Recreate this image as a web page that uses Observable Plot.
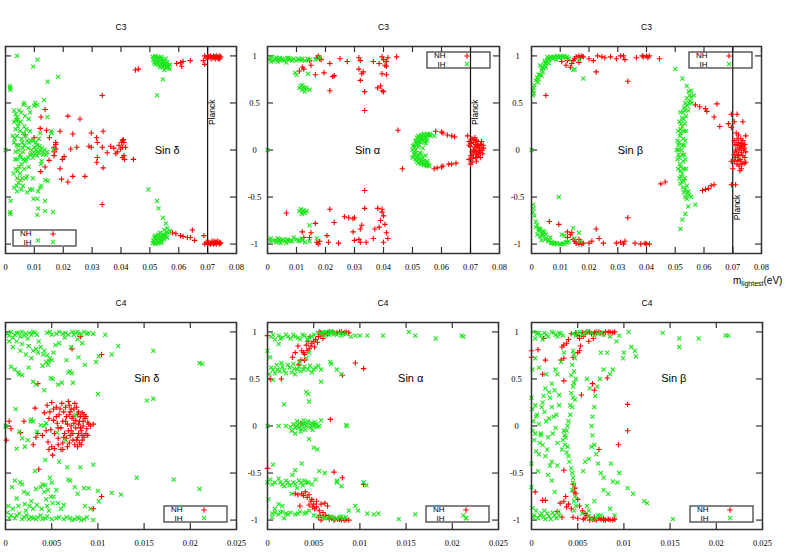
<!DOCTYPE html>
<html><head><meta charset="utf-8">
<script src="https://cdn.jsdelivr.net/npm/d3@7"></script>
<script src="https://cdn.jsdelivr.net/npm/@observablehq/plot@0.6"></script>
<style>
body{margin:0;background:#fff}
#chart{position:relative;width:789px;height:552px;overflow:hidden;background:#fff}
#chart svg{position:absolute;left:0;top:0}
#xlabel{position:absolute;left:733px;top:275px;font:10px "Liberation Sans",Arial,sans-serif;white-space:nowrap;color:#000}
#xlabel sub{font-size:7px;vertical-align:-2px}
</style>
</head><body><div id="chart"><div id="xlabel">m<sub>lightest</sub>(eV)</div></div>
<script>
// ---------- tick values / labels ----------
const xTicksC3 = [0,0.01,0.02,0.03,0.04,0.05,0.06,0.07,0.08];
const xTickLabelsC3 = ["0","0.01","0.02","0.03","0.04","0.05","0.06","0.07","0.08"];
const xTicksC4 = [0,0.005,0.01,0.015,0.02,0.025];
const xTickLabelsC4 = ["0","0.005","0.01","0.015","0.02","0.025"];
const yTicks = [-1,-0.5,0,0.5,1];
const yTickLabels = ["-1","-0.5","0","0.5","1"];
const panelTitles = ["C3","C3","C3","C4","C4","C4"];
const panelLabels = ["Sin δ","Sin α","Sin β","Sin δ","Sin α","Sin β"];
const seriesNames = ["NH","IH"];
const planckLimit = 0.07;

// ---------- C3 : sin delta ----------
const c3DeltaNH = [[0.069,1.0],[0.0695,0.98],[0.07,1.0],[0.0705,0.99],[0.071,1.0],[0.0715,0.98],[0.072,1.0],[0.0725,0.99],[0.073,1.0],[0.0735,0.98],[0.074,1.0],[0.0745,0.99],[0.0728,0.97],[0.0738,0.97],[0.069,0.91],[0.0685,0.95],
[0.0593,0.92],[0.0606,0.93],[0.061,0.89],[0.0615,0.94],[0.064,0.95],[0.045,0.85],[0.046,0.86],[0.0335,0.58],[0.0335,-0.58],
[0.069,-1.0],[0.0695,-0.98],[0.07,-1.0],[0.0705,-0.99],[0.071,-1.0],[0.0715,-0.97],[0.072,-1.0],[0.0725,-0.99],[0.073,-1.0],[0.0735,-0.97],[0.074,-1.0],[0.0745,-0.99],[0.0728,-0.98],
[0.0578,-0.88],[0.059,-0.89],[0.0606,-0.91],[0.0615,-0.92],[0.063,-0.93],[0.064,-0.93],[0.0647,-0.85],[0.0655,-0.96],[0.0687,-0.91],
[0.0137,0.43],[0.0123,0.35],[0.012,0.23],[0.0142,0.21],[0.0189,0.2],[0.0216,0.36],[0.0258,0.33],[0.0233,0.17],[0.0297,0.18],[0.0315,0.13],[0.0338,0.2],[0.0318,0.08],[0.0289,0.04],[0.0247,0.03],[0.0226,0.01],[0.0203,-0.07],[0.0197,-0.1],[0.0174,0.06],[0.0168,0.03],[0.017,-0.02],[0.0168,-0.06],[0.0152,0.13],[0.0099,0.13],[0.0122,-0.23],[0.0151,-0.11],[0.0137,-0.18],[0.0189,-0.2],[0.0194,-0.31],[0.0216,-0.34],[0.0233,-0.28],[0.0275,-0.28],[0.0338,-0.19],[0.0318,-0.08],[0.0316,-0.13],[0.0364,0.04],[0.0375,0.02],[0.0387,-0.02],[0.0393,0.05],[0.0405,0.1],[0.041,0.08],[0.0405,0.03],[0.041,-0.06],[0.0405,-0.08],[0.0398,0.01],[0.0382,-0.04],[0.0443,-0.1],[0.0416,0.03],[0.0402,0.08],[0.0408,0.11],[0.0335,0.03],[0.0297,0.03],[0.0174,0.08],[0.0175,0.01],[0.0412,-0.1],[0.0352,-0.03],[0.0068,0.16],
[0.0702,0.99],[0.0712,0.97],[0.0722,0.98],[0.0732,0.99],[0.0742,0.97],[0.0702,-0.98],[0.0712,-0.99],[0.0722,-0.97],[0.0732,-0.98],[0.0742,-0.98]];
const c3DeltaIH = [[0,0],[0.004,1.0],[0.0096,0.886],[0.0111,0.96],[0.0146,0.727],[0.0182,0.777],[0.0016,0.66],[0.0017,0.64],[0.0015,0.68],
[0.003,0.42],[0.0035,0.38],[0.004,0.35],[0.003,0.3],[0.0045,0.28],[0.0035,0.22],[0.005,0.2],[0.004,0.15],[0.0055,0.12],[0.003,0.08],[0.0045,0.05],[0.006,0.02],[0.0035,-0.02],[0.005,-0.05],[0.004,-0.1],[0.0055,-0.15],[0.0035,-0.2],[0.005,-0.25],[0.004,-0.3],[0.0045,-0.35],[0.003,-0.4],[0.004,-0.44],[0.0065,0.25],[0.007,0.15],[0.0065,0.05],[0.007,-0.1],[0.0065,-0.2],[0.007,-0.3],[0.006,-0.38],[0.008,0.33],[0.0085,0.2],[0.0075,0.1],[0.009,0.0],[0.0085,-0.05],[0.008,-0.18],[0.0075,-0.28],[0.0085,-0.42],[0.0095,0.1],[0.01,0.03],[0.0105,0.0],[0.011,0.05],[0.0115,-0.03],[0.012,0.0],[0.0125,0.02],[0.011,-0.06],[0.0105,0.08],[0.0095,-0.08],[0.0115,0.12],[0.012,0.18],[0.0125,-0.12],[0.013,-0.05],[0.0135,0.0],[0.014,-0.05],[0.0145,-0.02],[0.0158,0.2],[0.016,0.18],[0.0165,0.0],[0.0062,0.48],[0.0065,0.5],[0.008,0.45],[0.01,0.47],[0.0103,0.5],[0.011,0.48],[0.0133,0.53],[0.0145,0.35],[0.0097,-0.52],[0.0095,-0.3],[0.0113,-0.44],[0.012,-0.4],[0.0093,-0.42],[0.0075,-0.45],[0.0055,-0.42],[0.0025,0.15],[0.0028,-0.25],[0.0138,-0.32],[0.0123,-0.15],[0.0085,0.4],[0.0055,0.4],[0.006,-0.02],[0.0045,0.0],[0.0042,0.32],[0.0048,-0.18],[0.0058,0.08],[0.0038,0.05],[0.0052,-0.32],[0.0062,-0.1],[0.0033,-0.1],[0.0068,0.36],[0.0078,-0.08],[0.0088,0.1],[0.0108,-0.02],
[0.0032,0.12],[0.0042,-0.22],[0.0052,0.3],[0.0058,-0.3],[0.0036,0.32],[0.0047,0.42],[0.0038,-0.38],[0.0062,0.18],[0.0072,0.22],[0.0068,-0.12],[0.0078,0.02],[0.0082,0.08],[0.0092,-0.04],[0.0102,-0.04],[0.0118,0.04],[0.0128,-0.02],[0.0043,0.25],[0.0053,-0.08],
[0.0018,-0.54],[0.0016,-0.66],[0.0017,-0.68],[0.011,-0.52],[0.0113,-0.62],[0.011,-0.69],[0.0137,-0.54],[0.0137,-0.65],[0.0165,-0.66],[0.0124,-0.38],[0.0146,-0.33],[0.0113,-0.96],
[0.051,0.99],[0.0515,0.97],[0.052,1.0],[0.0525,0.96],[0.053,0.98],[0.0535,0.94],[0.054,0.97],[0.0545,0.92],[0.055,0.95],[0.0555,0.9],[0.056,0.93],[0.0565,0.88],[0.057,0.91],[0.0525,0.92],[0.0535,0.88],[0.055,0.85],[0.0545,0.88],[0.0515,0.93],[0.054,0.99],[0.0555,0.97],[0.0545,0.75],[0.0525,0.58],
[0.0512,0.96],[0.0518,0.99],[0.0522,0.94],[0.0528,0.99],[0.0532,0.95],[0.0538,0.91],[0.0542,0.95],[0.0548,0.9],[0.0552,0.92],[0.0558,0.87],[0.0562,0.9],[0.0568,0.86],[0.053,0.9],[0.0518,0.91],
[0.051,-0.99],[0.0515,-0.97],[0.052,-1.0],[0.0525,-0.96],[0.053,-0.98],[0.0535,-0.94],[0.054,-0.97],[0.0545,-0.92],[0.055,-0.95],[0.0555,-0.9],[0.056,-0.93],[0.0565,-0.88],[0.057,-0.86],[0.0525,-0.92],[0.0535,-0.88],[0.055,-0.85],[0.0545,-0.9],[0.0515,-0.93],[0.054,-0.99],[0.0495,-0.42],[0.0525,-0.54],[0.053,-0.62],[0.0545,-0.72],[0.0555,-0.78],[0.056,-0.83],
[0.0512,-0.96],[0.0518,-0.99],[0.0522,-0.94],[0.0528,-0.99],[0.0532,-0.95],[0.0538,-0.91],[0.0542,-0.95],[0.0548,-0.9],[0.0552,-0.92],[0.0558,-0.87],[0.053,-0.9],[0.0518,-0.91]];

// ---------- C3 : sin alpha ----------
const c3AlphaNH = [[0.017,0.98],[0.0175,1.0],[0.018,0.97],[0.0185,0.96],[0.0145,0.95],[0.015,0.9],[0.012,0.88],[0.0125,0.86],[0.011,0.84],[0.0165,0.8],[0.0215,0.92],[0.0195,0.82],[0.0225,0.78],[0.023,0.79],[0.025,0.97],[0.0275,0.94],[0.0315,0.98],[0.032,0.95],[0.033,0.83],[0.0325,0.81],[0.032,0.74],[0.0315,0.86],[0.0215,0.63],[0.0335,0.62],[0.0335,0.42],[0.0365,0.94],[0.0385,0.92],[0.0395,0.99],[0.0415,0.98],[0.0445,0.99],[0.0405,0.9],[0.041,0.89],[0.0395,0.81],[0.041,0.8],[0.038,0.66],[0.039,0.68],[0.0395,0.63],[0.04,0.62],[0.04,0.96],[0.041,0.94],
[0.017,-0.98],[0.0175,-1.0],[0.018,-0.97],[0.0145,-0.93],[0.015,-0.88],[0.012,-0.87],[0.0125,-0.93],[0.0165,-0.78],[0.0065,-0.67],[0.0205,-0.91],[0.021,-0.98],[0.0215,-0.63],[0.023,-0.77],[0.0245,-0.99],[0.0265,-0.71],[0.028,-0.72],[0.0295,-0.73],[0.03,-0.72],[0.0295,-0.87],[0.03,-0.96],[0.0315,-0.95],[0.032,-0.98],[0.0325,-0.8],[0.032,-0.84],[0.0335,-0.62],[0.0335,-0.43],[0.034,-0.98],[0.0365,-0.94],[0.037,-0.84],[0.0385,-0.82],[0.039,-0.75],[0.0395,-0.63],[0.0395,-0.66],[0.04,-0.7],[0.0405,-0.79],[0.041,-0.88],[0.0415,-0.94],[0.04,-0.98],[0.038,-0.62],
[0.045,0.21],[0.0465,-0.2],[0.0575,-0.2],[0.0585,-0.19],[0.06,-0.18],[0.0605,-0.17],[0.0625,-0.15],[0.0635,-0.15],[0.065,-0.14],[0.06,0.19],[0.0605,0.18],[0.062,0.16],[0.0635,0.15],[0.0645,0.14],[0.058,0.2],
[0.069,0.15],[0.0695,0.05],[0.0695,-0.1],[0.07,-0.15],[0.0705,0.12],[0.071,0.0],[0.071,0.08],[0.071,-0.05],[0.0715,0.03],[0.072,-0.02],[0.072,0.1],[0.0725,0.05],[0.0725,-0.07],[0.073,0.0],[0.073,0.02],[0.0735,-0.03],[0.0735,0.06],[0.074,0.0],[0.0745,0.02],[0.0705,-0.13],[0.0715,0.13],[0.072,-0.12],[0.07,0.04],[0.0695,0.09],[0.0728,-0.05],[0.0742,-0.04],[0.0705,-0.02],[0.0712,0.11],[0.0738,0.09],[0.0718,-0.08],[0.0732,0.04],
[0.0702,0.07],[0.0708,-0.09],[0.0718,0.06],[0.0722,-0.04],[0.0726,0.09],[0.0734,-0.08],[0.0744,0.05],[0.0702,-0.06],[0.0716,-0.01],[0.0731,-0.01],[0.0722,0.04]];
const c3AlphaIH = [[0,0],[0.0005,0.96],[0.001,0.97],[0.002,0.95],[0.003,0.98],[0.004,0.96],[0.005,0.97],[0.006,0.95],[0.007,0.98],[0.008,0.96],[0.009,0.97],[0.01,0.95],[0.011,0.96],[0.012,0.97],[0.013,0.95],[0.0145,0.96],[0.0165,0.96],[0.018,0.98],[0.0035,0.94],[0.0065,0.93],[0.0015,0.99],[0.0095,0.82],[0.01,0.8],[0.014,0.81],[0.0045,0.95],[0.0075,0.97],[0.0025,0.96],
[0.0012,0.94],[0.0028,0.96],[0.0042,0.98],[0.0055,0.96],[0.0068,0.97],[0.0085,0.95],[0.0105,0.97],[0.0118,0.95],[0.0138,0.97],
[0.011,0.66],[0.0115,0.68],[0.012,0.64],[0.0125,0.67],[0.013,0.65],[0.0135,0.66],[0.0145,0.64],[0.012,0.69],[0.0128,0.62],
[0.011,-0.65],[0.0115,-0.63],[0.012,-0.66],[0.0125,-0.64],[0.013,-0.67],[0.0118,-0.68],[0.0135,-0.65],[0.0145,-0.8],[0.0005,-0.95],[0.001,-0.97],[0.002,-0.96],[0.003,-0.98],[0.004,-0.95],[0.005,-0.96],[0.006,-0.97],[0.007,-0.95],[0.008,-0.96],[0.009,-0.93],[0.01,-0.95],[0.011,-0.97],[0.012,-0.96],[0.013,-0.98],[0.0145,-0.97],[0.017,-0.94],[0.0045,-0.99],[0.0065,-0.99],[0.0035,-0.94],[0.0075,-0.97],
[0.0012,-0.94],[0.0028,-0.96],[0.0042,-0.97],[0.0055,-0.95],[0.0068,-0.96],[0.0085,-0.97],[0.0105,-0.96],[0.0118,-0.94],
[0.0505,0.05],[0.051,0.1],[0.0515,0.13],[0.052,0.15],[0.053,0.16],[0.054,0.17],[0.055,0.16],[0.056,0.17],[0.0505,-0.05],[0.051,-0.1],[0.0515,-0.12],[0.052,-0.14],[0.053,-0.15],[0.054,-0.16],[0.055,-0.17],[0.0555,-0.16],[0.051,0.0],[0.052,0.03],[0.0525,-0.03],[0.053,0.08],[0.0535,-0.08],[0.052,0.09],[0.0525,-0.1],[0.054,0.12],[0.054,-0.12],[0.055,0.1],[0.055,-0.12],[0.0515,0.06],[0.0515,-0.06],[0.05,-0.08],[0.0575,0.15],[0.0535,0.14],[0.0545,-0.14],[0.0525,0.12],[0.05,0.0],[0.0545,0.15],[0.0535,0.02],[0.053,-0.04],[0.0545,0.07],[0.0545,-0.06],
[0.0508,0.03],[0.0512,-0.03],[0.0518,0.1],[0.0518,-0.1],[0.0522,0.06],[0.0522,-0.06],[0.0528,0.14],[0.0528,-0.13],[0.0532,0.11],[0.0532,-0.11],[0.0538,0.16],[0.0538,-0.15],[0.0542,0.09],[0.0548,0.13],[0.0548,-0.16],[0.0552,0.17],[0.0552,-0.14],[0.0558,0.16],[0.0558,-0.17],[0.0562,0.15],[0.0502,0.04],[0.0506,-0.02],[0.0512,0.08],[0.0513,-0.08]];

// ---------- C3 : sin beta ----------
const c3BetaNH = [[0.0155,0.99],[0.0165,1.0],[0.017,0.98],[0.0175,1.0],[0.018,0.99],[0.0145,0.95],[0.014,0.92],[0.0135,0.88],[0.015,0.97],[0.0165,0.93],[0.02,0.97],[0.0215,0.95],[0.023,1.0],[0.0245,0.99],[0.0255,0.98],[0.0275,0.99],[0.0295,0.97],[0.031,1.0],[0.032,1.0],[0.0325,0.96],[0.0365,0.98],[0.0385,1.0],[0.039,0.99],[0.04,1.0],[0.0405,0.98],[0.041,1.0],[0.0445,0.97],[0.0225,0.83],[0.0335,0.73],[0.005,0.58],[0.0105,0.94],[0.0125,0.95],[0.012,0.9],
[0.0155,-0.99],[0.0165,-1.0],[0.017,-0.98],[0.0175,-1.0],[0.018,-0.99],[0.0145,-0.95],[0.014,-0.88],[0.0135,-0.9],[0.015,-0.97],[0.0125,-0.93],[0.0165,-0.95],[0.02,-0.99],[0.021,-0.97],[0.0225,-0.84],[0.0235,-0.94],[0.025,-0.99],[0.0295,-0.99],[0.031,-0.98],[0.032,-1.0],[0.0325,-0.97],[0.0335,-0.72],[0.036,-0.99],[0.038,-1.0],[0.0395,-0.99],[0.04,-1.0],[0.041,-1.0],[0.0062,-0.76],[0.0095,-0.79],[0.0125,-0.87],
[0.057,0.48],[0.0585,0.46],[0.0605,0.44],[0.061,0.41],[0.0635,0.35],[0.0645,0.49],[0.0655,0.25],[0.0695,0.38],[0.0715,0.38],[0.0685,0.28],[0.0695,0.24],[0.0705,0.3],[0.0735,0.3],[0.045,-0.36],[0.0465,-0.34],[0.0595,-0.43],[0.0605,-0.42],[0.0615,-0.41],[0.0625,-0.38],[0.0635,-0.37],[0.0695,-0.37],[0.071,-0.37],[0.07,-0.2],[0.0695,-0.12],
[0.0705,0.1],[0.071,0.0],[0.071,-0.08],[0.0715,0.12],[0.0715,0.05],[0.072,-0.05],[0.072,0.08],[0.0725,0.0],[0.0725,-0.1],[0.073,0.04],[0.073,-0.03],[0.0735,0.1],[0.0735,-0.06],[0.074,0.02],[0.074,-0.14],[0.0745,0.15],[0.0745,-0.02],[0.0705,-0.05],[0.0715,-0.15],[0.0725,-0.22],[0.073,-0.2],[0.072,0.16],[0.0722,0.02],[0.0732,0.07],[0.0745,-0.13],[0.0738,0.0],[0.0712,-0.02],[0.0728,-0.12],[0.0742,0.06],[0.0718,-0.11],
[0.0708,0.06],[0.0718,-0.06],[0.0728,0.12],[0.0732,-0.15],[0.0742,-0.08],[0.0712,0.18],[0.0726,0.05],[0.0736,0.04],[0.0722,-0.17],[0.0706,-0.12]];
const c3BetaIH = [[0,0],[0.0005,0.58],[0.0008,0.6],[0.0005,0.63],[0.0007,0.66],[0.001,0.69],[0.0015,0.74],[0.002,0.77],[0.0025,0.75],[0.003,0.8],[0.0035,0.85],[0.004,0.88],[0.0045,0.9],[0.005,0.93],[0.0055,0.95],[0.006,0.97],[0.007,0.98],[0.008,0.99],[0.009,1.0],[0.01,1.0],[0.011,0.99],[0.012,0.98],[0.013,0.97],[0.004,0.83],[0.005,0.88],[0.006,0.92],[0.003,0.9],[0.0045,0.95],[0.0022,0.72],[0.0035,0.79],[0.0055,0.99],[0.0075,0.97],[0.0085,0.96],[0.0145,0.85],[0.015,0.86],[0.018,0.76],[0.0165,0.96],[0.0065,0.99],[0.0095,0.98],
[0.0025,0.8],[0.0038,0.87],[0.0048,0.92],[0.0058,0.96],[0.0068,0.98],[0.0078,0.99],[0.0088,0.99],[0.0105,0.99],[0.0115,1.0],[0.0125,0.99],
[0.0005,-0.58],[0.0007,-0.62],[0.0005,-0.66],[0.001,-0.7],[0.0015,-0.76],[0.002,-0.8],[0.003,-0.84],[0.004,-0.9],[0.005,-0.94],[0.006,-0.96],[0.007,-0.98],[0.008,-0.99],[0.009,-1.0],[0.01,-1.0],[0.011,-0.99],[0.012,-0.98],[0.013,-0.97],[0.004,-0.86],[0.005,-0.9],[0.003,-0.92],[0.002,-0.9],[0.0025,-0.84],[0.0015,-0.82],[0.0035,-0.96],[0.0065,-0.93],[0.0115,-0.91],[0.0145,-0.83],[0.0165,-0.88],[0.017,-0.97],[0.0095,-0.5],[0.0105,-0.9],[0.015,-0.94],[0.0075,-0.99],
[0.0025,-0.86],[0.0038,-0.91],[0.0048,-0.95],[0.0058,-0.97],[0.0068,-0.99],[0.0078,-1.0],[0.0088,-0.99],[0.0105,-1.0],[0.0115,-1.0],[0.0125,-0.98],[0.0045,-0.87],[0.0035,-0.88],
[0.0512,0.0],[0.0513,0.08],[0.0514,-0.08],[0.0516,0.15],[0.0516,-0.15],[0.0518,0.22],[0.0518,-0.22],[0.052,0.28],[0.052,-0.28],[0.0523,0.34],[0.0523,-0.34],[0.0527,0.4],[0.0527,-0.4],[0.053,0.45],[0.053,-0.45],[0.0535,0.5],[0.0535,-0.5],[0.054,0.55],[0.054,-0.52],[0.0525,0.05],[0.0525,-0.05],[0.0528,0.12],[0.0528,-0.12],[0.053,0.2],[0.053,-0.2],[0.0533,0.28],[0.0533,-0.3],[0.0537,0.36],[0.054,-0.38],[0.0545,0.42],[0.0545,-0.44],[0.0548,0.5],[0.0548,-0.48],[0.0555,0.56],[0.0555,-0.5],[0.0552,0.52],[0.0505,0.0],[0.0508,0.1],[0.0508,-0.1],[0.051,0.2],[0.051,-0.2],[0.0515,0.3],[0.0515,-0.3],[0.0518,0.4],[0.0518,-0.36],[0.0535,0.1],[0.0535,-0.1],[0.05,0.86],[0.0525,0.76],[0.054,0.68],[0.0555,0.63],[0.0545,-0.6],[0.0535,-0.68],[0.0525,-0.74],[0.0518,-0.84],[0.057,-0.58],[0.0565,0.58],
[0.0511,0.05],[0.0511,-0.05],[0.0519,0.18],[0.0519,-0.18],[0.0524,0.25],[0.0524,-0.25],[0.0529,0.33],[0.0529,-0.33],[0.0534,0.42],[0.0534,-0.42],[0.0542,0.47],[0.0542,-0.46],[0.0522,0.0],[0.0531,0.05],[0.0531,-0.05],[0.0538,0.2],[0.0538,-0.2],[0.055,0.58],[0.0547,0.62],[0.0558,0.5]];

// ---------- C4 : sin delta ----------
const c4DeltaNH = [[0.0004,0.05],[0.0001,-0.15],[0.0006,-0.03],[0.002,0.05],[0.0016,-0.07],[0.0032,0.19],[0.0035,0.45],[0.0036,-0.46],[0.003,-0.2],[0.0042,0.14],[0.0045,0.22],[0.005,0.25],[0.0052,0.18],[0.0055,0.2],[0.0047,0.08],[0.0044,-0.05],[0.004,-0.1],[0.0046,-0.17],[0.005,-0.22],[0.0053,-0.24],[0.0057,-0.2],[0.0051,-0.31],[0.006,-0.25],[0.0062,-0.18],[0.0058,0.12],[0.0062,0.05],[0.0065,0.2],[0.0068,0.26],[0.0066,0.1],[0.007,0.15],[0.0072,0.08],[0.0074,0.03],[0.0076,-0.02],[0.0078,0.12],[0.008,0.05],[0.0082,-0.05],[0.0084,0.0],[0.0086,0.08],[0.0088,-0.03],[0.009,0.02],[0.0092,0.0],[0.0068,-0.05],[0.007,-0.1],[0.0073,-0.15],[0.0075,-0.2],[0.0078,-0.12],[0.008,-0.18],[0.0083,-0.1],[0.0064,-0.08],[0.0066,-0.13],[0.0071,0.0],[0.0074,0.18],[0.0077,0.2],[0.0079,0.15],[0.0081,0.1],[0.0085,-0.12],[0.0087,0.1],[0.006,-0.02],[0.0056,0.03],[0.0053,-0.08],[0.0049,-0.04],[0.0078,-0.22],[0.0082,-0.2],[0.0069,0.22],[0.0062,-0.25],[0.0087,-0.08],[0.0095,0.02],[0.0035,-0.08],[0.0033,-0.12],[0.0081,0.95],[0.0072,0.82],[0.0104,0.76],[0.0104,-0.75],[0.0095,-0.88],[0.0048,0.15],[0.0055,0.1],[0.0063,0.15],[0.0071,-0.05],[0.0076,0.06],[0.0079,-0.08],[0.0084,0.05],[0.0089,0.04],[0.0073,0.1],[0.0067,0.02],[0.0057,-0.13],[0.0047,-0.25],[0.0061,0.24],[0.0083,0.14],[0.0069,-0.18],
[0.0065,0.05],[0.0069,0.12],[0.0073,-0.08],[0.0077,-0.15],[0.0081,-0.02],[0.0085,0.12],[0.0089,-0.1],[0.0067,-0.22],[0.0059,0.18],[0.0063,-0.12],[0.0075,0.24],[0.0079,0.02],[0.0071,0.18],[0.0083,-0.15],[0.0057,-0.02],[0.0052,0.06]];
const c4DeltaIH = [[0.0002,0.98],[0.0006,1.0],[0.001,0.97],[0.0014,0.99],[0.0018,1.0],[0.0022,0.98],[0.0026,0.99],[0.003,1.0],[0.0034,0.97],[0.0008,0.94],[0.0016,0.95],[0.0024,0.93],[0.0045,0.99],[0.005,0.97],[0.0058,1.0],[0.0062,0.98],[0.0068,0.97],[0.0072,1.0],[0.0076,0.99],[0.008,0.98],[0.0085,1.0],[0.009,0.99],[0.0095,0.98],[0.0108,0.97],
[0.0004,0.96],[0.0012,0.99],[0.002,0.96],[0.0028,0.97],[0.0032,0.99],[0.0048,1.0],[0.0055,0.98],[0.0065,0.99],[0.0074,0.97],[0.0078,1.0],[0.0082,0.97],[0.0088,0.98],
[0.0012,0.9],[0.0018,0.87],[0.0025,0.85],[0.003,0.8],[0.0035,0.78],[0.0038,0.84],[0.0042,0.8],[0.0045,0.75],[0.0048,0.72],[0.005,0.7],[0.0052,0.78],[0.0044,0.68],[0.004,0.64],[0.0046,0.65],[0.0054,0.86],[0.0036,0.9],[0.0028,0.72],[0.0022,0.76],[0.0016,0.8],[0.0008,0.84],[0.0004,0.9],[0.0006,0.63],[0.001,0.6],[0.0014,0.57],[0.0018,0.54],[0.0015,0.55],[0.0025,0.62],
[0.0033,0.82],[0.0041,0.76],[0.0047,0.69],
[0.0058,0.88],[0.0064,0.94],[0.0078,0.92],[0.0083,0.88],[0.0071,0.84],[0.0079,0.73],[0.0086,0.65],[0.0098,0.68],[0.0101,0.74],[0.0066,0.7],[0.0068,0.57],[0.007,0.58],[0.0072,0.56],[0.0061,0.46],[0.0073,0.46],[0.0051,0.5],[0.0049,0.51],[0.0042,0.38],[0.0033,0.44],[0.003,0.47],[0.0057,0.44],[0.01,0.34],[0.0115,0.76],[0.0122,0.85],[0.016,0.8],[0.021,0.67],[0.0213,0.66],[0.0153,0.27],[0.016,0.29],
[0,0],[0.0001,-0.01],[0.0011,0.18],[0.0012,-0.24],[0.0018,-0.13],[0.0021,-0.22],[0.0024,-0.15],[0.0028,0.07],[0.003,0.05],[0.0034,-0.06],[0.0038,0.01],[0.0042,0.0],[0.0044,0.03],[0.0056,-0.07],[0.0076,0.12],[0.0065,-0.15],[0.0015,-0.06],[0.0027,0.05],[0.0043,-0.36],[0.0058,-0.38],[0.0032,-0.48],[0.0067,-0.44],[0.0081,-0.44],[0.0095,-0.41],
[0.0002,-0.92],[0.0006,-0.95],[0.001,-0.98],[0.0015,-0.93],[0.002,-0.97],[0.0025,-0.99],[0.003,-0.98],[0.0035,-0.97],[0.004,-0.99],[0.0045,-0.96],[0.005,-0.99],[0.0058,-0.97],[0.0063,-0.99],[0.007,-0.98],[0.0075,-0.99],[0.008,-0.98],[0.0085,-0.99],[0.0095,-1.0],[0.0003,-0.85],[0.0008,-0.88],[0.0012,-0.77],[0.0016,-0.6],[0.0018,-0.62],[0.002,-0.7],[0.0024,-0.72],[0.0028,-0.8],[0.003,-0.88],[0.0034,-0.84],[0.0038,-0.65],[0.004,-0.62],[0.0042,-0.7],[0.0044,-0.78],[0.0045,-0.85],[0.0047,-0.9],[0.0048,-0.55],[0.005,-0.6],[0.0052,-0.75],[0.0055,-0.68],[0.0057,-0.82],[0.006,-0.88],[0.0063,-0.84],[0.0068,-0.57],[0.007,-0.58],[0.0075,-0.65],[0.0078,-0.72],[0.0085,-0.66],[0.009,-0.66],[0.0086,-0.85],[0.0092,-0.88],[0.01,-0.69],[0.0101,-0.8],[0.0115,-0.71],[0.0125,-0.73],[0.0142,-0.55],[0.0182,-0.57],[0.021,-0.67],[0.0007,-0.65],[0.001,-0.58],[0.0033,-0.67],[0.0022,-0.9],[0.0026,-0.85],
[0.0004,-0.98],[0.0012,-0.95],[0.0018,-0.99],[0.0023,-0.95],[0.0028,-0.97],[0.0033,-0.99],[0.0038,-0.95],[0.0043,-0.98],[0.0055,-0.98],[0.0066,-0.97],[0.0072,-1.0],[0.0078,-0.97],[0.0082,-1.0],[0.0088,-0.97],[0.0043,-0.63],[0.0046,-0.68],[0.0049,-0.75],[0.0051,-0.82],[0.0039,-0.88],[0.0021,-0.83],[0.0014,-0.85]];

// ---------- C4 : sin alpha ----------
const c4AlphaNH = [[0.0,0.96],[0.0027,0.73],[0.003,0.78],[0.0033,0.85],[0.0037,0.8],[0.004,0.76],[0.0042,0.86],[0.0045,0.82],[0.0048,0.88],[0.005,0.9],[0.0052,0.92],[0.0055,0.95],[0.0058,0.97],[0.006,0.93],[0.0056,1.0],[0.0062,0.99],[0.0065,0.98],[0.007,1.0],[0.0075,0.99],[0.008,1.0],[0.0085,1.0],[0.0088,0.99],[0.0046,0.95],[0.0036,0.7],[0.0034,0.65],[0.004,0.7],[0.0095,0.67],[0.0104,0.61],[0.0081,0.54],[0.0003,0.5],[0.0015,0.5],[0.0068,0.07],[0.0036,0.03],[0.0,-0.45],[0.0072,-0.49],[0.0081,-0.55],[0.0104,-0.62],
[0.003,-0.72],[0.0033,-0.73],[0.0037,-0.72],[0.0041,-0.7],[0.0045,-0.73],[0.0048,-0.78],[0.005,-0.83],[0.0053,-0.86],[0.0056,-0.9],[0.006,-0.92],[0.0063,-0.95],[0.0066,-0.97],[0.007,-0.98],[0.0073,-0.99],[0.0076,-0.99],[0.008,-1.0],[0.0085,-1.0],[0.0088,-1.0],[0.0055,-0.97],[0.0058,-0.83],[0.0062,-0.82],[0.0045,-0.84],[0.0035,-0.85],[0.0058,-1.0],[0.0065,-0.85],[0.0053,-0.8],[0.0051,-0.88],[0.0049,-0.86],[0.0054,0.89],[0.0051,0.84],[0.0044,0.9],
[0.0057,0.99],[0.0061,0.97],[0.0067,1.0],[0.0072,0.99],[0.0078,1.0],[0.0083,0.99],[0.0047,0.85],[0.0043,0.8],[0.0039,0.78],[0.0057,-0.95],[0.0061,-0.97],[0.0067,-0.99],[0.0072,-1.0],[0.0078,-0.99],[0.0083,-1.0],[0.0047,-0.8],[0.0043,-0.76],[0.0039,-0.74]];
const c4AlphaIH = [[0.0004,0.95],[0.0008,0.92],[0.0012,0.96],[0.0016,0.94],[0.002,0.97],[0.0025,0.93],[0.003,0.95],[0.0035,0.92],[0.004,0.96],[0.0045,0.94],[0.005,0.97],[0.0055,0.99],[0.006,1.0],[0.0065,0.98],[0.007,1.0],[0.0075,0.97],[0.008,0.96],[0.0085,0.98],[0.009,0.95],[0.0095,0.96],[0.01,0.96],[0.0108,0.96],[0.0125,0.96],[0.0153,1.0],[0.016,0.96],[0.0182,0.93],[0.021,0.96],[0.0212,0.95],[0.0012,0.87],[0.0,0.8],[0.0003,0.73],[0.0058,0.98],[0.0062,0.96],[0.0068,1.0],[0.0072,0.98],[0.0078,0.99],
[0.0006,0.97],[0.0014,0.93],[0.0022,0.95],[0.0028,0.97],[0.0033,0.94],[0.0038,0.97],[0.0043,0.92],[0.0048,0.95],[0.0063,1.0],[0.0067,0.97],[0.0073,0.99],[0.0082,0.98],
[0.0002,0.55],[0.0006,0.6],[0.001,0.65],[0.0013,0.58],[0.0016,0.63],[0.002,0.56],[0.0024,0.62],[0.0028,0.66],[0.0032,0.6],[0.0036,0.58],[0.004,0.63],[0.0044,0.6],[0.0048,0.57],[0.0052,0.62],[0.0055,0.64],[0.003,0.55],[0.0015,0.67],[0.0008,0.56],[0.0058,0.47],[0.0068,0.68],[0.0069,0.66],[0.0075,0.6],[0.008,0.55],[0.0058,0.6],[0.0042,0.72],[0.0034,0.68],[0.0045,0.78],[0.0006,0.49],[0.0026,0.57],
[0.0004,0.62],[0.0011,0.6],[0.0018,0.59],[0.0022,0.65],[0.0029,0.61],[0.0034,0.63],[0.0039,0.6],[0.0046,0.64],[0.005,0.6],
[0.0042,0.36],[0.0044,0.34],[0.0045,0.26],[0.0018,0.23],[0.0,0.0],[0.0012,0.0],[0.002,0.0],[0.0025,-0.01],[0.0028,0.02],[0.003,-0.02],[0.0033,0.01],[0.0035,0.03],[0.0037,-0.03],[0.004,0.02],[0.0042,0.0],[0.0044,0.05],[0.0046,-0.02],[0.0048,0.03],[0.005,0.0],[0.0052,0.02],[0.0054,-0.01],[0.0032,0.05],[0.0036,-0.06],[0.003,-0.08],[0.0045,-0.14],[0.005,-0.23],[0.0054,-0.25],[0.0058,0.06],[0.0086,0.0],[0.0085,0.01],[0.0026,-0.05],[0.0039,0.06],
[0.0031,0.0],[0.0034,-0.02],[0.0038,0.01],[0.0041,-0.04],[0.0043,0.03],[0.0047,0.01],[0.0049,-0.04],[0.0051,0.04],[0.0053,0.01],[0.0056,0.0],[0.0039,0.03],
[0.0006,-0.41],[0.003,-0.47],[0.0037,-0.4],[0.0027,-0.52],[0.0056,-0.48],[0.0062,-0.5],[0.0075,-0.58],[0.008,-0.64],[0.0075,-0.6],[0.0,-0.6],[0.0003,-0.57],[0.0008,-0.6],[0.0012,-0.56],[0.0016,-0.62],[0.002,-0.58],[0.0024,-0.63],[0.0028,-0.6],[0.0032,-0.66],[0.0036,-0.6],[0.004,-0.58],[0.0044,-0.6],[0.0048,-0.62],[0.0052,-0.57],[0.0001,-0.78],[0.0012,-0.83],[0.0016,-0.85],[0.0026,-0.72],[0.0008,-0.88],[0.0008,-0.92],[0.0012,-0.94],[0.0016,-0.91],[0.002,-0.93],[0.0025,-0.92],[0.003,-0.94],[0.0035,-0.91],[0.004,-0.93],[0.0045,-0.9],[0.005,-0.95],[0.0055,-0.96],[0.006,-0.97],[0.0065,-0.98],[0.007,-0.97],[0.0075,-0.98],[0.008,-0.96],[0.0085,-0.97],[0.0095,-0.85],[0.0098,-0.9],[0.0104,-0.6],[0.0107,-0.63],[0.0108,-0.93],[0.0115,-0.94],[0.012,-0.93],[0.0142,-0.99],[0.016,-0.94],[0.0215,-0.98],[0.0212,-0.95],[0.0088,-0.9],[0.0005,-0.97],[0.0018,-0.98],
[0.0005,-0.62],[0.0014,-0.6],[0.0018,-0.64],[0.0022,-0.6],[0.003,-0.62],[0.0034,-0.58],[0.0038,-0.63],[0.0042,-0.6],[0.0005,-0.93],[0.0014,-0.92],[0.0022,-0.94],[0.0033,-0.93],[0.0042,-0.92],[0.0062,-0.98],[0.0068,-0.96],[0.0072,-0.99],[0.0078,-0.97],[0.0082,-0.98]];

// ---------- C4 : sin beta ----------
const c4BetaNH = [[0.0043,0.98],[0.0048,0.99],[0.005,0.96],[0.0055,0.99],[0.006,1.0],[0.0065,0.98],[0.007,1.0],[0.0075,0.99],[0.008,1.0],[0.0085,1.0],[0.009,1.0],[0.0052,0.93],[0.0056,0.95],[0.0062,0.9],[0.0067,0.93],[0.0035,0.86],[0.0038,0.88],[0.0033,0.84],[0.004,0.92],[0.0032,0.7],[0.0035,0.72],[0.0045,0.73],[0.0052,0.8],[0.005,0.78],[0.0053,0.85],[0.0013,0.93],[0.0,0.8],[0.0,0.73],[0.0007,0.81],[0.0015,0.7],[0.0035,0.48],[0.0012,0.55],[0.0054,0.33],[0.0068,0.38],[0.0066,0.45],[0.0082,0.51],[0.0104,0.23],[0.0104,-0.05],[0.0094,-0.2],[0.0073,-0.25],[0.0035,-0.47],
[0.0004,-0.7],[0.0015,-0.79],[0.0012,-0.79],[0.0031,-0.82],[0.0035,-0.8],[0.0037,-0.75],[0.0038,-0.86],[0.004,-0.83],[0.0043,-0.88],[0.0046,-0.7],[0.0048,-0.72],[0.005,-0.78],[0.0052,-0.85],[0.0055,-0.9],[0.0058,-0.93],[0.006,-0.95],[0.0063,-0.97],[0.0066,-0.99],[0.007,-1.0],[0.0075,-0.99],[0.008,-1.0],[0.0085,-1.0],[0.009,-0.99],[0.0045,-0.97],[0.005,-0.98],[0.0056,-0.99],[0.0028,-0.91],[0.0033,-0.97],[0.0068,-0.97],[0.0078,-0.98],
[0.0058,0.98],[0.0063,1.0],[0.0068,0.99],[0.0073,1.0],[0.0078,0.98],[0.0083,1.0],[0.0088,0.99],[0.0058,-0.98],[0.0063,-1.0],[0.0068,-0.99],[0.0073,-0.98],[0.0078,-1.0],[0.0083,-0.99],[0.0088,-1.0],[0.0045,-0.62],[0.0047,-0.66]];
const c4BetaIH = [[0.0002,1.0],[0.0006,0.98],[0.001,0.96],[0.0014,0.99],[0.0018,0.95],[0.0022,1.0],[0.0026,0.97],[0.003,0.99],[0.0034,0.96],[0.0004,0.93],[0.0012,0.92],[0.0045,0.98],[0.005,0.99],[0.0055,0.97],[0.006,1.0],[0.0065,0.99],[0.0072,0.98],[0.0078,0.97],[0.0085,0.95],[0.0095,0.96],[0.0105,1.0],[0.0142,0.99],[0.016,0.93],[0.0181,0.93],[0.021,0.96],[0.0213,0.96],[0.016,0.84],[0.0112,0.8],[0.0113,0.74],[0.0108,0.84],[0.01,0.78],[0.0099,0.72],[0.0092,0.9],
[0.0008,0.99],[0.0016,0.97],[0.0024,0.99],[0.0028,0.95],[0.0032,0.98],[0.0048,0.96],[0.0052,1.0],[0.0058,0.99],[0.0068,0.96],[0.0075,0.99],
[0.0045,0.8],[0.0047,0.72],[0.0044,0.65],[0.0046,0.58],[0.0048,0.5],[0.0045,0.42],[0.0043,0.35],[0.0047,0.28],[0.0044,0.2],[0.0042,0.12],[0.004,0.05],[0.0038,-0.05],[0.0037,-0.12],[0.0036,-0.2],[0.0038,-0.28],[0.004,-0.32],[0.0043,-0.45],[0.0045,-0.55],[0.0046,-0.62],[0.0044,-0.68],[0.0047,-0.75],[0.0048,-0.85],[0.0046,-0.9],[0.0033,-0.25],[0.0034,-0.15],[0.0035,-0.05],
[0.0046,0.76],[0.0043,0.54],[0.0046,0.46],[0.0045,0.3],[0.0042,0.22],[0.0039,0.0],[0.0036,-0.1],[0.0039,-0.22],[0.0041,-0.38],[0.0044,-0.5],[0.0045,-0.6],[0.0046,-0.8],
[0.0,0.3],[0.0001,0.18],[0.0002,0.05],[0.0001,-0.05],[0.0003,-0.15],[0.0,-0.4],[0.0004,0.22],[0.0006,0.12],[0.0008,0.02],[0.001,-0.08],[0.0012,0.25],[0.0014,0.15],[0.0016,0.05],[0.0018,-0.12],[0.002,0.3],[0.0022,0.2],[0.0024,0.1],[0.0026,-0.02],[0.0028,-0.18],[0.003,0.22],[0.0015,0.4],[0.0022,0.45],[0.0025,0.38],[0.003,0.33],[0.0012,-0.2],[0.0008,-0.3],[0.0015,-0.32],[0.0022,-0.38],[0.0028,-0.42],[0.0005,-0.27],[0.0016,0.55],[0.0008,0.62],[0.0004,0.72],[0.0001,0.6],[0.0026,0.6],[0.0028,0.55],[0.0032,0.68],[0.0035,0.78],[0.0,-0.65],[0.0001,-0.87],[0.0007,-0.48],[0.0018,-0.52],[0.0022,-0.58],[0.0025,-0.7],[0.002,-0.42],[0.001,-0.1],
[0.0005,0.1],[0.0011,0.2],[0.0019,0.08],[0.0023,-0.08],[0.0009,-0.18],[0.0027,0.12],[0.0013,0.32],[0.0019,0.36],[0.0004,-0.08],[0.0017,-0.25],
[0.0078,0.6],[0.0074,0.5],[0.0071,0.42],[0.0069,0.32],[0.0068,0.2],[0.0066,0.1],[0.0065,0.0],[0.0066,-0.1],[0.0068,-0.2],[0.007,-0.3],[0.0072,-0.4],[0.0075,-0.5],[0.0078,-0.55],[0.0065,-0.22],[0.0058,-0.38],[0.0056,-0.48],[0.0062,-0.35],[0.0063,0.4],[0.006,0.5],[0.0075,0.78],[0.0082,0.78],[0.0085,0.55],[0.0088,0.6],[0.0086,-0.4],[0.0095,-0.5],[0.0093,-0.6],[0.0088,-0.59],[0.0104,-0.66],[0.011,-0.72],[0.0122,-0.8],[0.0125,-0.82],[0.0083,-0.72],[0.0078,-0.68],[0.0068,-0.8],[0.006,-0.85],[0.0062,-0.9],
[0.0003,-0.95],[0.0007,-0.98],[0.0011,-0.93],[0.0015,-0.99],[0.0019,-0.96],[0.0023,-0.92],[0.0027,-0.98],[0.003,-0.95],[0.0005,-0.9],[0.0014,-0.9],[0.0062,-0.96],[0.007,-0.98],[0.0075,-0.95],[0.0055,-0.93],[0.0153,-0.99],[0.0085,-0.88],[0.009,-0.95],
[0.0002,-0.97],[0.0009,-0.95],[0.0013,-0.97],[0.0017,-0.93],[0.0021,-0.99],[0.0025,-0.95],[0.0029,-0.91],[0.0065,-0.99],[0.0072,-0.95]];

// ---------- layout (pixel frames) ----------
const W = 789, H = 552;
const RED = "#ff0000", GREEN = "#1ee61e";
const SANS = "'Liberation Sans', Arial, sans-serif";
const SERIF = "'Liberation Serif', 'Times New Roman', serif";
const panels = [
  {nh:c3DeltaNH, ih:c3DeltaIH, fx:[5,236],  fy:[46,253],  xt:xTicksC3, xl:xTickLabelsC3, lab:[0.056,0],   planckY:0.40,  legend:"bl", yLabels:true},
  {nh:c3AlphaNH, ih:c3AlphaIH, fx:[267,499],fy:[46,253],  xt:xTicksC3, xl:xTickLabelsC3, lab:[0.0345,0],  planckY:0.40,  legend:"tr", yLabels:true},
  {nh:c3BetaNH,  ih:c3BetaIH,  fx:[531,761],fy:[46,253],  xt:xTicksC3, xl:xTickLabelsC3, lab:[0.0344,0],  planckY:-0.61, legend:"tr", yLabels:false},
  {nh:c4DeltaNH, ih:c4DeltaIH, fx:[5,236],  fy:[322,529], xt:xTicksC4, xl:xTickLabelsC4, lab:[0.0153,0.5], planckY:null, legend:"br", yLabels:true},
  {nh:c4AlphaNH, ih:c4AlphaIH, fx:[267,498],fy:[322,529], xt:xTicksC4, xl:xTickLabelsC4, lab:[0.0155,0.5], planckY:null, legend:"br", yLabels:true},
  {nh:c4BetaNH,  ih:c4BetaIH,  fx:[531,762],fy:[322,529], xt:xTicksC4, xl:xTickLabelsC4, lab:[0.0154,0.5], planckY:null, legend:"br", yLabels:false}
];

const chart = document.getElementById("chart");
const TL = 6; // inward tick length
const R_PLUS = 1.9, R_TIMES = 2.0;

panels.forEach((p, i) => {
  const pw = p.fx[1]-p.fx[0], ph = p.fy[1]-p.fy[0];
  const xLab = new Map(p.xt.map((t,k)=>[t,p.xl[k]]));
  const yLab = new Map(yTicks.map((t,k)=>[t,yTickLabels[k]]));
  const marks = [
    Plot.tickX(p.xt, {x:d=>d, insetTop:ph-TL, stroke:"#333", strokeWidth:1.2}),
    Plot.tickX(p.xt, {x:d=>d, insetBottom:ph-TL, stroke:"#333", strokeWidth:1.2}),
    Plot.tickY(yTicks, {y:d=>d, insetLeft:pw-TL, stroke:"#333", strokeWidth:1.2}),
    Plot.tickY(yTicks, {y:d=>d, insetRight:pw-TL, stroke:"#333", strokeWidth:1.2}),
    Plot.axisX(p.xt, {anchor:"bottom", tickSize:0, tickPadding:10, tickFormat:d=>xLab.get(d), fontSize:8.5, fontFamily:SERIF, label:null}),
  ];
  if (p.yLabels) marks.push(Plot.axisY(yTicks, {anchor:"right", tickSize:0, tickPadding:18, textAnchor:"middle", tickFormat:d=>yLab.get(d), fontSize:8.5, fontFamily:SERIF, label:null}));
  else marks.push(Plot.axisY([], {anchor:"right", label:null}));
  if (p.planckY !== null) {
    marks.push(Plot.ruleX([planckLimit], {stroke:"#111", strokeWidth:1.2}));
    marks.push(Plot.text(["Planck"], {x:()=>planckLimit, y:()=>p.planckY, rotate:-90, dx:5, fontSize:8.5, fontFamily:SANS, fill:"#000"}));
  }
  marks.push(
    Plot.dot(p.nh, {x:d=>d[0], y:d=>d[1], symbol:"plus", r:R_PLUS, stroke:RED, strokeWidth:1.1}),
    Plot.dot(p.ih, {x:d=>d[0], y:d=>d[1], symbol:"times", r:R_TIMES, stroke:GREEN, strokeWidth:1.1}),
    Plot.text([panelLabels[i]], {x:()=>p.lab[0], y:()=>p.lab[1], fontSize:11, fontFamily:SANS, fill:"#000"}),
    Plot.text([panelTitles[i]], {frameAnchor:"top", dy:-23, fontSize:8.5, fontFamily:SANS, fill:"#000"}),
    Plot.frame({stroke:"#333", strokeWidth:1.5})
  );
  const svg = Plot.plot({
    width:W, height:H,
    marginLeft:p.fx[0], marginRight:W-p.fx[1], marginTop:p.fy[0], marginBottom:H-p.fy[1],
    x:{domain:[p.xt[0], p.xt[p.xt.length-1]], axis:null},
    y:{domain:[-1.1,1.1], axis:null},
    style:{background:"transparent", overflow:"visible"},
    marks
  });
  // legend box (pixel chrome)
  let bx, by;
  if (p.legend === "bl") { bx = p.fx[0]+8; by = p.fy[1]-23; }
  else if (p.legend === "tr") { bx = p.fx[1]-72; by = p.fy[0]+6; }
  else { bx = p.fx[1]-72; by = p.fy[1]-23; }
  const g = d3.select(svg).append("g").attr("font-family", SANS).attr("font-size", 8).attr("fill", "#000");
  g.append("rect").attr("x",bx).attr("y",by).attr("width",63).attr("height",16).attr("fill","none").attr("stroke","#333").attr("stroke-width",1.2);
  g.append("text").attr("x",bx+18.5).attr("y",by+3.5).attr("dy","0.35em").attr("text-anchor","end").attr("fill","#000").text(seriesNames[0]);
  g.append("text").attr("x",bx+18.5).attr("y",by+12).attr("dy","0.35em").attr("text-anchor","end").attr("fill","#000").text(seriesNames[1]);
  g.append("path").attr("transform",`translate(${bx+40},${by+4})`).attr("d", d3.symbol(d3.symbolPlus, Math.PI*R_PLUS*R_PLUS)()).attr("fill","none").attr("stroke",RED).attr("stroke-width",1.1);
  g.append("path").attr("transform",`translate(${bx+40},${by+12})`).attr("d", d3.symbol(d3.symbolTimes, Math.PI*R_TIMES*R_TIMES)()).attr("fill","none").attr("stroke",GREEN).attr("stroke-width",1.1);
  chart.appendChild(svg);
});
</script>
</body></html>
